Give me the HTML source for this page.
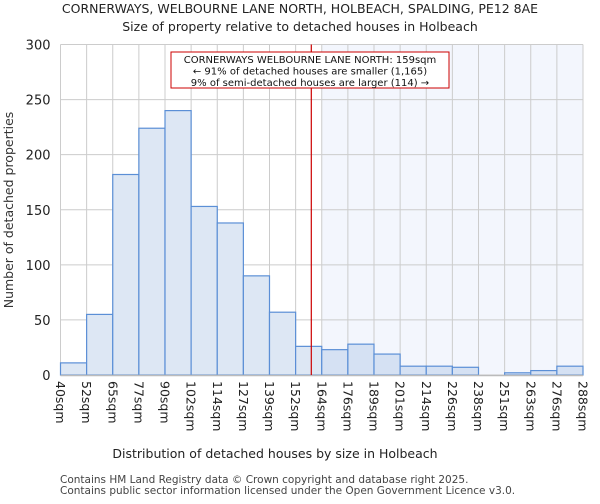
<!DOCTYPE html>
<html><head><meta charset="utf-8"><style>
body{margin:0;background:#fff;font-family:"DejaVu Sans","Liberation Sans",sans-serif}
svg text{font-family:"DejaVu Sans","Liberation Sans",sans-serif}
</style></head><body>
<svg id="c" width="600" height="500" viewBox="0 0 600 500">
<text x="300" y="13" text-anchor="middle" font-size="12.5" fill="#222">CORNERWAYS, WELBOURNE LANE NORTH, HOLBEACH, SPALDING, PE12 8AE</text>
<text x="300" y="31" text-anchor="middle" font-size="12.5" fill="#222">Size of property relative to detached houses in Holbeach</text>
<g id="plot"></g>
<text x="275" y="458" text-anchor="middle" font-size="12.5" fill="#222">Distribution of detached houses by size in Holbeach</text>
<text transform="translate(13,210) rotate(-90)" text-anchor="middle" font-size="12.5" fill="#333">Number of detached properties</text>
<text x="60" y="483" font-size="10.5" fill="#444">Contains HM Land Registry data © Crown copyright and database right 2025.</text>
<text x="60" y="494" font-size="10.5" fill="#444">Contains public sector information licensed under the Open Government Licence v3.0.</text>
</svg>
<script>
const binLabels=["40sqm","52sqm","65sqm","77sqm","90sqm","102sqm","114sqm","127sqm","139sqm","152sqm","164sqm","176sqm","189sqm","201sqm","214sqm","226sqm","238sqm","251sqm","263sqm","276sqm","288sqm"];
const counts=[11,55,182,224,240,153,138,90,57,26,23,28,19,8,8,7,0,2,4,8];
const yTicks=[0,50,100,150,200,250,300];
const subjectBin=9.6;
const highlightFromBin=10;
const X0=60.5,X1=583,Y0=375,Y1=44.5,YMAX=300;
const bw=(X1-X0)/counts.length;
const xs=i=>X0+i*bw, ys=v=>Y0-(v/YMAX)*(Y0-Y1);
const NS="http://www.w3.org/2000/svg",g=document.getElementById('plot');
function mk(t,a){const e=document.createElementNS(NS,t);for(const k in a)e.setAttribute(k,a[k]);g.appendChild(e);return e;}
let r=mk('rect',{x:xs(highlightFromBin),y:Y1,width:X1-xs(highlightFromBin),height:Y0-Y1,fill:'#f3f6fd'});


yTicks.forEach(v=>{const l=mk('line',{x1:X0,x2:X1,y1:ys(v),y2:ys(v),stroke:'#ccc','stroke-width':1});


const t=mk('text',{x:X0-10,y:ys(v)+5,'text-anchor':'end','font-size':13,fill:'#222'});t.textContent=v;

});
binLabels.forEach((s,i)=>{const l=mk('line',{x1:xs(i),x2:xs(i),y1:Y1,y2:Y0,stroke:'#ccc','stroke-width':1});


const t=mk('text',{transform:`translate(${xs(i)-4.5},${Y0+6}) rotate(90)`,'font-size':12.5,fill:'#222'});t.textContent=s;

});
counts.forEach((v,i)=>{const b=mk('rect',{x:xs(i),y:ys(v),width:bw,height:Y0-ys(v),fill:i>=highlightFromBin?'#d5e1f3':'#dde7f4',stroke:'#5b8fd6','stroke-width':1.2});

});
const ax=mk('line',{x1:X0,x2:X1,y1:Y0+0.5,y2:Y0+0.5,stroke:'#bbb','stroke-width':1.5});


const m=mk('line',{x1:xs(subjectBin),x2:xs(subjectBin),y1:Y1,y2:Y0,stroke:'#cc0000','stroke-width':1.2});


const bx=mk('rect',{x:171,y:52,width:278,height:36,fill:'#fff',stroke:'#cc0000','stroke-width':1});


["CORNERWAYS WELBOURNE LANE NORTH: 159sqm","← 91% of detached houses are smaller (1,165)","9% of semi-detached houses are larger (114) →"].forEach((s,i)=>{
const t=mk('text',{x:310,y:63+i*11.5,'text-anchor':'middle','font-size':10,fill:'#111'});t.textContent=s;

});
</script>
</body></html>
